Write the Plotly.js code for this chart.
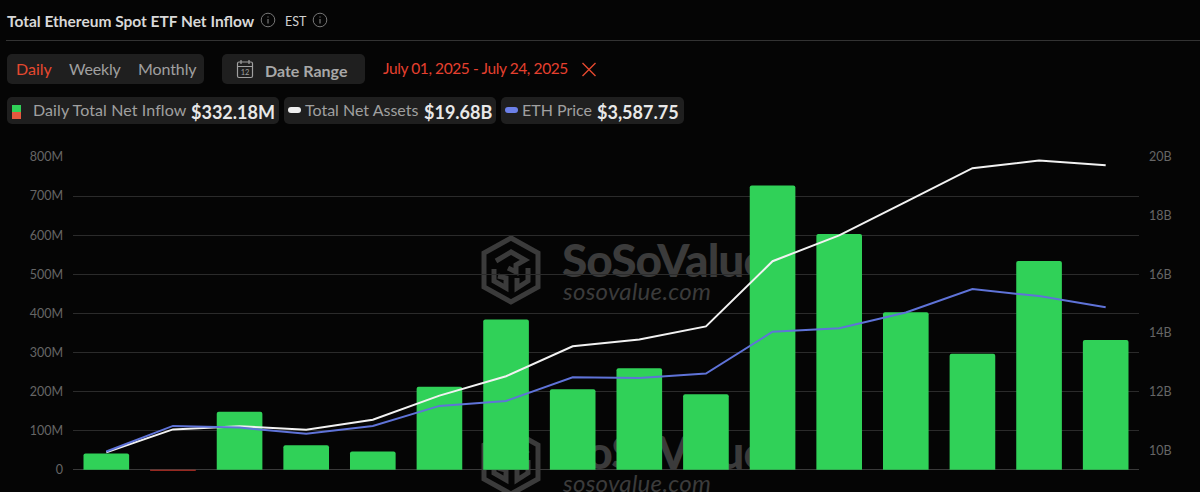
<!DOCTYPE html>
<html><head><meta charset="utf-8">
<script src="https://cdn.plot.ly/plotly-3.0.1.min.js"></script>
<style>
html,body{margin:0;padding:0;background:#050505;width:1200px;height:492px;overflow:hidden;font-family:Lato,sans-serif}
.t{position:absolute;white-space:nowrap;line-height:1}
.box{position:absolute;background:#1f1f1f;border-radius:5px}
#chart{position:absolute;left:0;top:0;width:1200px;height:492px}
</style></head><body>
<div id="bg" style="position:absolute;left:0;top:0;width:1200px;height:492px;overflow:hidden"></div>
<div id="chart"></div>
<div id="hdr"></div>
<script>
const dates = ["Jul 01","Jul 02","Jul 03","Jul 07","Jul 08","Jul 09","Jul 10","Jul 11","Jul 14","Jul 15","Jul 16","Jul 17","Jul 18","Jul 21","Jul 22","Jul 23"];
const netInflowM = [41.7,-2.5,148.6,63,47,212.7,384.7,206,259.6,193,727,603,403,297,534,332.18];
const netAssetsB = [9.94,10.72,10.83,10.71,11.05,11.87,12.53,13.55,13.78,14.23,16.45,17.33,18.47,19.62,19.88,19.72];
const ethPrice = [2405,2615,2601,2550,2615,2779,2820,3014,3008,3044,3388,3416,3546,3737,3680,3587.75];
const leftTicks = [0,100,200,300,400,500,600,700,800];
const leftLabels = ["0","100M","200M","300M","400M","500M","600M","700M","800M"];
const rightTicks = [10,12,14,16,18,20];
const rightLabels = ["10B","12B","14B","16B","18B","20B"];

function wm(top){
  return `<svg style="position:absolute;left:480px;top:${top}px" width="62" height="70" viewBox="0 0 62 70">
  <g fill="none" stroke="#3b3b3b" stroke-width="5" stroke-linejoin="miter">
  <path d="M31 3 L58 18 L58 52 L31 67 L4 52 L4 18 Z"/>
  <path d="M16 26 L31 17 L45 25 L36 30 L36 37 L28 33 M14 34 L14 46 L26 53 L26 43 L18 41 M48 33 L48 46 L37 53 L37 43"/>
  </g></svg>
  <span class="t" style="left:562px;top:${top+5}px;font:900 46px Lato,sans-serif;color:#3b3b3b;letter-spacing:-1px;line-height:40px">SoSoValue</span>
  <span class="t" style="left:563px;top:${top+47}px;font:italic 400 24px Lato,sans-serif;color:#3b3b3b;letter-spacing:.3px;line-height:18px">sosovalue.com</span>`;
}
document.getElementById('bg').innerHTML = wm(235) + wm(427);

const info = (x)=>`<svg style="position:absolute;left:${x}px;top:12px" width="16" height="16" viewBox="0 0 16 16"><circle cx="8" cy="8" r="6.8" fill="none" stroke="#777" stroke-width="1"/><path d="M8 7v4.5M8 4.4v1.2" stroke="#777" stroke-width="1.2"/></svg>`;
document.getElementById('hdr').innerHTML = `
<span class="t" style="left:7px;top:12px;font:700 15.5px Lato,sans-serif;color:#d8d8d8">Total Ethereum Spot ETF Net Inflow</span>
${info(260)}
<span class="t" style="left:285px;top:14px;font:400 12.5px Lato,sans-serif;color:#d0d0d0">EST</span>
${info(312)}
<div style="position:absolute;left:6px;top:40px;width:1194px;height:1px;background:#333"></div>
<div class="box" style="left:7px;top:54px;width:197px;height:30px"></div>
<span class="t" style="left:16px;top:61px;font-size:16px;color:#e5492f">Daily</span>
<span class="t" style="left:69px;top:61px;font-size:16px;letter-spacing:-.2px;color:#a0a0a0">Weekly</span>
<span class="t" style="left:138px;top:61px;font-size:16px;letter-spacing:-.1px;color:#a0a0a0">Monthly</span>
<div class="box" style="left:222px;top:54px;width:143px;height:30px"></div>
<svg style="position:absolute;left:236px;top:59px" width="18" height="20" viewBox="0 0 18 20"><rect x="1.5" y="3" width="15" height="15.5" rx="1.5" fill="none" stroke="#a0a0a0" stroke-width="1.2"/><path d="M1.5 7.5h15M5 1v4M13 1v4" stroke="#a0a0a0" stroke-width="1.2"/><text x="9" y="16" font-size="7.5" text-anchor="middle" fill="#a0a0a0" font-family="Lato">12</text></svg>
<span class="t" style="left:265px;top:61px;font:700 16px Lato,sans-serif;color:#a8a8a8">Date Range</span>
<span class="t" style="left:383px;top:61px;font-size:15.5px;letter-spacing:-.4px;color:#e5402f">July 01, 2025 - July 24, 2025</span>
<svg style="position:absolute;left:581px;top:62px" width="16" height="15" viewBox="0 0 16 15"><path d="M1.5 1 L14.5 14 M14.5 1 L1.5 14" stroke="#e5492f" stroke-width="1.4"/></svg>

<div class="box" style="left:7px;top:97px;width:272px;height:27px"></div>
<div style="position:absolute;left:12px;top:105px;width:9px;height:7px;background:#30d158"></div>
<div style="position:absolute;left:12px;top:112px;width:9px;height:7px;background:#e5593f"></div>
<span class="t" style="left:33px;top:102px;font-size:16px;letter-spacing:.1px;color:#a0a0a0">Daily Total Net Inflow</span>
<span class="t" style="left:191px;top:101px;font:700 18px Lato,sans-serif;color:#e8e8e8">$332.18M</span>

<div class="box" style="left:284px;top:97px;width:212px;height:27px"></div>
<div style="position:absolute;left:288px;top:107px;width:13px;height:6px;border-radius:3px;background:#eee"></div>
<span class="t" style="left:305px;top:102px;font-size:16px;color:#a0a0a0">Total Net Assets</span>
<span class="t" style="left:424px;top:101px;font:700 18px Lato,sans-serif;color:#e8e8e8">$19.68B</span>

<div class="box" style="left:501px;top:97px;width:183px;height:27px"></div>
<div style="position:absolute;left:505px;top:107px;width:13px;height:6px;border-radius:3px;background:#6c80e8"></div>
<span class="t" style="left:522px;top:102px;font-size:16px;color:#a0a0a0">ETH Price</span>
<span class="t" style="left:597px;top:101px;font:700 18px Lato,sans-serif;color:#e8e8e8">$3,587.75</span>`;

const xIdx = dates.map((_, i) => i);
const W = 1200, H = 492;
const data = [
 {type:'bar', x:xIdx, y:netInflowM, customdata:dates, hovertemplate:'%{customdata}: %{y}M<extra></extra>', textposition:'none', width:0.685, yaxis:'y',
  marker:{color:netInflowM.map(v => v >= 0 ? '#30d158' : '#c8342a'), cornerradius:2, line:{width:0}}},
 {type:'scatter', mode:'lines', x:xIdx, y:netAssetsB, yaxis:'y2', line:{color:'#f2f2f2', width:2}},
 {type:'scatter', mode:'lines', x:xIdx, y:ethPrice, yaxis:'y3', line:{color:'#5f73d8', width:2}}
];
const layout = {
 width:W, height:H, showlegend:false, paper_bgcolor:'rgba(0,0,0,0)', plot_bgcolor:'rgba(0,0,0,0)',
 margin:{l:72.5, r:60.5, t:156.7, b:20.8, pad:0},
 font:{family:'Lato, sans-serif', size:12, color:'#666'},
 xaxis:{range:[-0.5,15.5], showticklabels:false, showgrid:false, zeroline:false, ticks:'', fixedrange:true},
 yaxis:{range:[-3,800], tickvals:leftTicks, ticktext:leftLabels, gridcolor:'#2b2b2b', gridwidth:1, zeroline:true, zerolinecolor:'#3a3a3a', zerolinewidth:1, ticks:'', ticklabelstandoff:9, tickfont:{size:12.5,color:'#666'}, fixedrange:true, automargin:false},
 yaxis2:{range:[9.302,20], overlaying:'y', side:'right', tickvals:rightTicks, ticktext:rightLabels, showgrid:false, zeroline:false, ticks:'', ticklabelstandoff:9, tickfont:{size:12.5,color:'#666'}, fixedrange:true, automargin:false},
 yaxis3:{range:[2245,4821], overlaying:'y', side:'right', visible:false, showgrid:false, zeroline:false, fixedrange:true}
};
Plotly.newPlot('chart', data, layout, {displayModeBar:false, staticPlot:true});
</script>
</body></html>
